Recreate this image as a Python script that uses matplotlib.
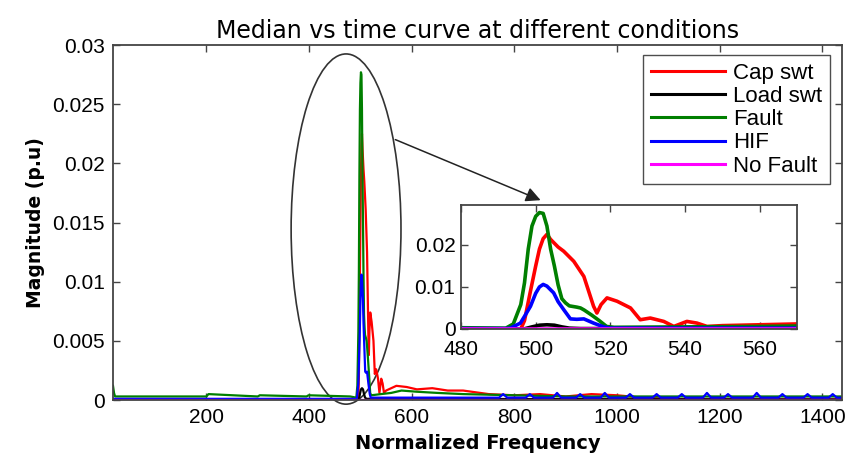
import matplotlib
matplotlib.use('Agg')
import matplotlib.pyplot as plt
from matplotlib.patches import Ellipse
from matplotlib.ticker import FuncFormatter

# values
cap_x = [18, 100, 200, 300, 400, 480, 496, 497, 498.5, 500, 501, 502, 503, 504, 506, 507.5, 510.2,
         512.9, 514, 515.5, 516.4, 517.5, 519.1, 521.8, 525.4, 528, 530.7, 534.3, 537, 540.5, 543.2,
         545.9, 550, 570, 590, 610, 640, 670, 700, 750, 800, 850, 900, 950, 1000, 1050, 1100, 1150, 1438]
cap_y = [0, 0, 0, 0, 0, 0, 0, 0.002, 0.0086, 0.015, 0.019, 0.0215, 0.0225, 0.0213, 0.0195, 0.0185, 0.0161,
         0.0125, 0.0095, 0.0054, 0.0038, 0.0058, 0.0074, 0.0066, 0.005, 0.0022, 0.0026, 0.0018, 0.0006, 0.0018, 0.0014,
         0.0006, 0.0008, 0.0012, 0.0011, 0.0009, 0.001, 0.0008, 0.0008, 0.0005, 0.0004, 0.0005, 0.0003, 0.0005, 0.0004,
         0.0002, 0.0001, 0.00005, 0.00005]

load_x = [18, 480, 497, 499, 501, 503, 505, 507, 509, 512, 1438]
load_y = [0.00005, 0.00005, 0.00005, 0.0005, 0.0009, 0.001, 0.0009, 0.0005, 0.0002, 0.0001, 0.00005]

fault_x = [18, 20, 22, 60, 150, 200, 204, 300, 304, 395, 399, 480, 492, 494, 496, 497, 498, 499, 500, 501,
           502, 503, 504, 505, 506, 507, 508, 509, 511, 512, 513, 515, 517, 519, 521, 540, 560, 580, 610,
           650, 700, 800, 900, 1000, 1100, 1200, 1300, 1438]
fault_y = [0.0012, 0.0006, 0.0003, 0.0003, 0.0003, 0.0003, 0.0005, 0.0003, 0.0004, 0.0003, 0.0004, 0.0003, 0.0002,
           0.0012, 0.0058, 0.011, 0.019, 0.0245, 0.0268, 0.0277, 0.0275, 0.0245, 0.019, 0.015, 0.0105, 0.0072, 0.0062,
           0.0055, 0.0052, 0.005, 0.0045, 0.0033, 0.002, 0.0006, 0.0004, 0.0005, 0.0006, 0.0008, 0.0007, 0.0006,
           0.0005, 0.0004, 0.0003, 0.0003, 0.0003, 0.0003, 0.0003, 0.0003]

hif_x = [18, 480, 492, 493.2, 495.9, 497, 498.6, 500, 501, 502, 503, 504.8, 506, 507.5, 509.3, 511, 512.9,
         515.5, 518.2, 520, 600, 770, 778, 786, 822, 830, 838, 875, 883, 891, 920, 928, 936, 968, 976, 984,
         1017, 1025, 1033, 1069, 1077, 1085, 1118, 1126, 1134, 1167, 1175, 1183, 1208, 1216, 1224, 1264, 1272,
         1280, 1314, 1322, 1330, 1363, 1371, 1379, 1412, 1420, 1428, 1438]
hif_y = [0.0001, 0.0001, 0.0001, 0.0002, 0.0014, 0.003, 0.0054, 0.0085, 0.01, 0.0106, 0.0102, 0.0086, 0.0065,
         0.0046, 0.0024, 0.0023, 0.0024, 0.0014, 0.0005, 0.0002, 0.0002, 0.0002, 0.0005, 0.0002, 0.0002, 0.0005,
         0.0002, 0.0002, 0.0006, 0.0002, 0.0002, 0.0005, 0.0002, 0.0002, 0.0006, 0.0002, 0.0002, 0.0005, 0.0002,
         0.0002, 0.0005, 0.0002, 0.0002, 0.0005, 0.0002, 0.0002, 0.0006, 0.0002, 0.0002, 0.0005, 0.0002, 0.0002,
         0.0006, 0.0002, 0.0002, 0.0005, 0.0002, 0.0002, 0.0005, 0.0002, 0.0002, 0.0005, 0.0002, 0.0002]

nofault_x = [18, 1438]
nofault_y = [0, 0]

names = ['Cap swt', 'Load swt', 'Fault', 'HIF', 'No Fault']
colors = ['#ff0000', '#000000', '#007f00', '#0000ff', '#ff00ff']
series = [(cap_x, cap_y), (load_x, load_y), (fault_x, fault_y), (hif_x, hif_y), (nofault_x, nofault_y)]

fig = plt.figure(figsize=(8.56, 4.58), dpi=100)
ax = fig.add_axes([0.132, 0.1266, 0.8516, 0.775])

for (xs, ys), c, n in zip(series, colors, names):
    ax.plot(xs, ys, color=c, lw=1.6, label=n)

ax.set_xlim(18, 1438)
ax.set_ylim(0, 0.03)
ax.set_xticks([200, 400, 600, 800, 1000, 1200, 1400])
ax.set_yticks([0, 0.005, 0.01, 0.015, 0.02, 0.025, 0.03])
fmt = FuncFormatter(lambda v, p: '%g' % v)
ax.yaxis.set_major_formatter(fmt)

def style(a, fs):
    for s in a.spines.values():
        s.set_color('#444444')
        s.set_linewidth(1.3)
    a.tick_params(direction='in', top=True, right=True, length=5, width=1, color='#444444',
                  labelsize=fs, pad=6)
    for lab in a.get_xticklabels() + a.get_yticklabels():
        lab.set_fontfamily('Liberation Sans')

style(ax, 15)
ax.set_title('Median vs time curve at different conditions', fontsize=17, family='DejaVu Sans', pad=5)
ax.set_xlabel('Normalized Frequency', fontsize=14, fontweight='bold', family='DejaVu Sans', labelpad=5)
ax.set_ylabel('Magnitude (p.u)', fontsize=13.5, fontweight='bold', family='DejaVu Sans', labelpad=5)

leg = ax.legend(loc='upper right', bbox_to_anchor=(0.984, 0.972), borderaxespad=0, fancybox=False,
                handlelength=3.3, handletextpad=0.4, labelspacing=0.1, borderpad=0.35,
                prop={'family': 'Liberation Sans', 'size': 16})
leg.get_frame().set_edgecolor('#222222')
leg.get_frame().set_linewidth(1.0)
for h in leg.get_lines():
    h.set_linewidth(2.2)

# ellipse around the spike and arrow to the zoom
ell = Ellipse((472, 0.01445), 214, 0.0296, fill=False, edgecolor='#333333', lw=1.2, clip_on=False)
ax.add_patch(ell)
ax.annotate('', xy=(856, 0.0168), xytext=(563, 0.0221),
            arrowprops=dict(arrowstyle='-|>', color='#222222', lw=1.1, mutation_scale=22),
            annotation_clip=False, zorder=10)

ins = fig.add_axes([0.5386, 0.2817, 0.3925, 0.2707])
for (xs, ys), c in zip(series, colors):
    ins.plot(xs, ys, color=c, lw=2.6)
ins.set_xlim(480, 570)
ins.set_ylim(0, 0.0295)
ins.set_xticks([480, 500, 520, 540, 560])
ins.set_yticks([0, 0.01, 0.02])
ins.yaxis.set_major_formatter(fmt)
style(ins, 15)
ins.tick_params(axis='x', pad=8)
ins.tick_params(axis='y', pad=4)

fig.savefig('out.png', dpi=100)
